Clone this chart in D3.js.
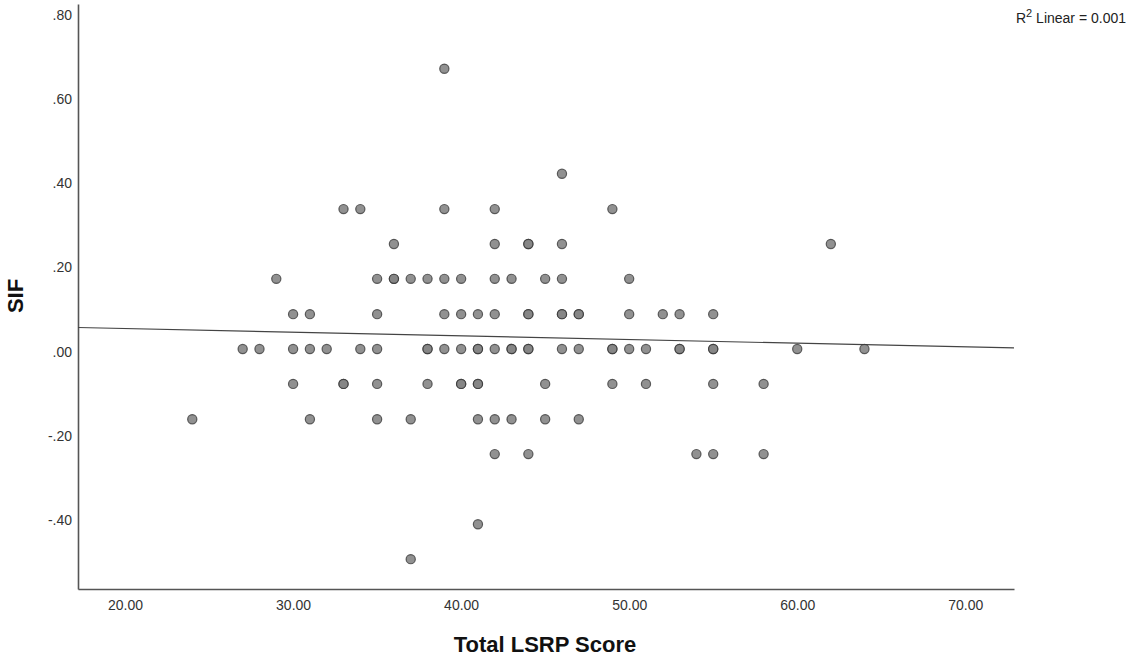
<!DOCTYPE html>
<html>
<head>
<meta charset="utf-8">
<script src="https://cdn.jsdelivr.net/npm/d3@7"></script>
<style>
  body { margin: 0; background: #fff; }
  text { font-family: "Liberation Sans", Arial, sans-serif; }
</style>
</head>
<body>
<div id="main"></div>
<script>
// data: Total LSRP Score (x) vs SIF (y)
var lsrp = [39,
  46,
  33, 34, 39, 42, 49,
  36, 42, 44, 44, 46, 62,
  29, 35, 36, 36, 37, 38, 39, 40, 42, 43, 45, 46, 50,
  30, 31, 35, 39, 40, 41, 42, 44, 44, 46, 46, 47, 47, 50, 52, 53, 55,
  27, 28, 30, 31, 32, 34, 35, 38, 38, 39, 40, 41, 41, 42, 43, 43, 44, 44, 46, 47, 49, 49, 50, 51, 53, 53, 55, 55, 60, 64,
  30, 33, 33, 35, 38, 40, 40, 41, 41, 45, 49, 51, 55, 58,
  24, 31, 35, 37, 41, 42, 43, 45, 47,
  42, 44, 54, 55, 58,
  41,
  37];
var sif = [0.667,
  0.417,
  0.333, 0.333, 0.333, 0.333, 0.333,
  0.25, 0.25, 0.25, 0.25, 0.25, 0.25,
  0.167, 0.167, 0.167, 0.167, 0.167, 0.167, 0.167, 0.167, 0.167, 0.167, 0.167, 0.167, 0.167,
  0.083, 0.083, 0.083, 0.083, 0.083, 0.083, 0.083, 0.083, 0.083, 0.083, 0.083, 0.083, 0.083, 0.083, 0.083, 0.083, 0.083,
  0, 0, 0, 0, 0, 0, 0, 0, 0, 0, 0, 0, 0, 0, 0, 0, 0, 0, 0, 0, 0, 0, 0, 0, 0, 0, 0, 0, 0, 0,
  -0.083, -0.083, -0.083, -0.083, -0.083, -0.083, -0.083, -0.083, -0.083, -0.083, -0.083, -0.083, -0.083, -0.083,
  -0.167, -0.167, -0.167, -0.167, -0.167, -0.167, -0.167, -0.167, -0.167,
  -0.25, -0.25, -0.25, -0.25, -0.25,
  -0.417,
  -0.5];
var xTicks = [20, 30, 40, 50, 60, 70];
var yTicks = [-0.4, -0.2, 0, 0.2, 0.4, 0.6, 0.8];
var xDomain = [17.2, 72.9];
var yDomain = [-0.571, 0.821];
var r2Label = "0.001";

var W = 1129, H = 657;
var margin = {top: 4, right: 115, bottom: 68, left: 78};

var svg = d3.select("#main").append("svg")
    .attr("width", W)
    .attr("height", H);

var x = d3.scaleLinear().domain(xDomain).range([margin.left, W - margin.right]);
var y = d3.scaleLinear().domain(yDomain).range([H - margin.bottom, margin.top]);

// axes without tick marks
var fmtX = d3.format(".2f");
var fmtY = function(d) {
    return d3.format(".2f")(d).replace("\u2212", "-").replace("0.", ".");
};

var gx = svg.append("g")
    .attr("transform", "translate(0," + (H - margin.bottom) + ")")
    .call(d3.axisBottom(x).tickValues(xTicks).tickFormat(fmtX).tickSize(0).tickPadding(11));

var gy = svg.append("g")
    .attr("transform", "translate(" + margin.left + ",0)")
    .call(d3.axisLeft(y).tickValues(yTicks).tickFormat(fmtY).tickSize(0).tickPadding(6));

[gx, gy].forEach(function(g) {
    g.select(".domain").attr("stroke", "#555").attr("stroke-width", 1.6);
    g.selectAll("text").attr("fill", "#333").style("font-size", "14px");
});
gy.selectAll("text").attr("dy", "0.5em");

// least squares fit line
var mx = d3.mean(lsrp), my = d3.mean(sif);
var sxy = d3.sum(lsrp, function(v, i) { return (v - mx) * (sif[i] - my); });
var sxx = d3.sum(lsrp, function(v) { return (v - mx) * (v - mx); });
var slope = sxy / sxx, icpt = my - slope * mx;

svg.append("line")
    .attr("x1", x(xDomain[0])).attr("y1", y(icpt + slope * xDomain[0]))
    .attr("x2", x(xDomain[1])).attr("y2", y(icpt + slope * xDomain[1]))
    .attr("stroke", "#444")
    .attr("stroke-width", 1.2);

// points
svg.append("g").selectAll("circle")
    .data(lsrp)
    .enter().append("circle")
    .attr("cx", function(d) { return x(d); })
    .attr("cy", function(d, i) { return y(sif[i]); })
    .attr("r", 4.6)
    .attr("fill", "#858585")
    .attr("fill-opacity", 0.9)
    .attr("stroke", "#333")
    .attr("stroke-opacity", 0.75)
    .attr("stroke-width", 1.2);

// axis titles
svg.append("text")
    .attr("x", 545)
    .attr("y", 652)
    .attr("text-anchor", "middle")
    .style("font-size", "22px")
    .style("font-weight", "bold")
    .attr("fill", "#111")
    .text("Total LSRP Score");

svg.append("text")
    .attr("transform", "translate(23,296) rotate(-90)")
    .attr("text-anchor", "middle")
    .style("font-size", "22px")
    .style("font-weight", "bold")
    .attr("fill", "#111")
    .text("SIF");

// R2 annotation
var r2 = svg.append("text")
    .attr("x", 1126)
    .attr("y", 23)
    .attr("text-anchor", "end")
    .style("font-size", "14px")
    .attr("fill", "#222");
r2.append("tspan").text("R");
r2.append("tspan").attr("dy", -6).style("font-size", "11px").text("2");
r2.append("tspan").attr("dy", 6).text(" Linear = " + r2Label);
</script>
</body>
</html>
